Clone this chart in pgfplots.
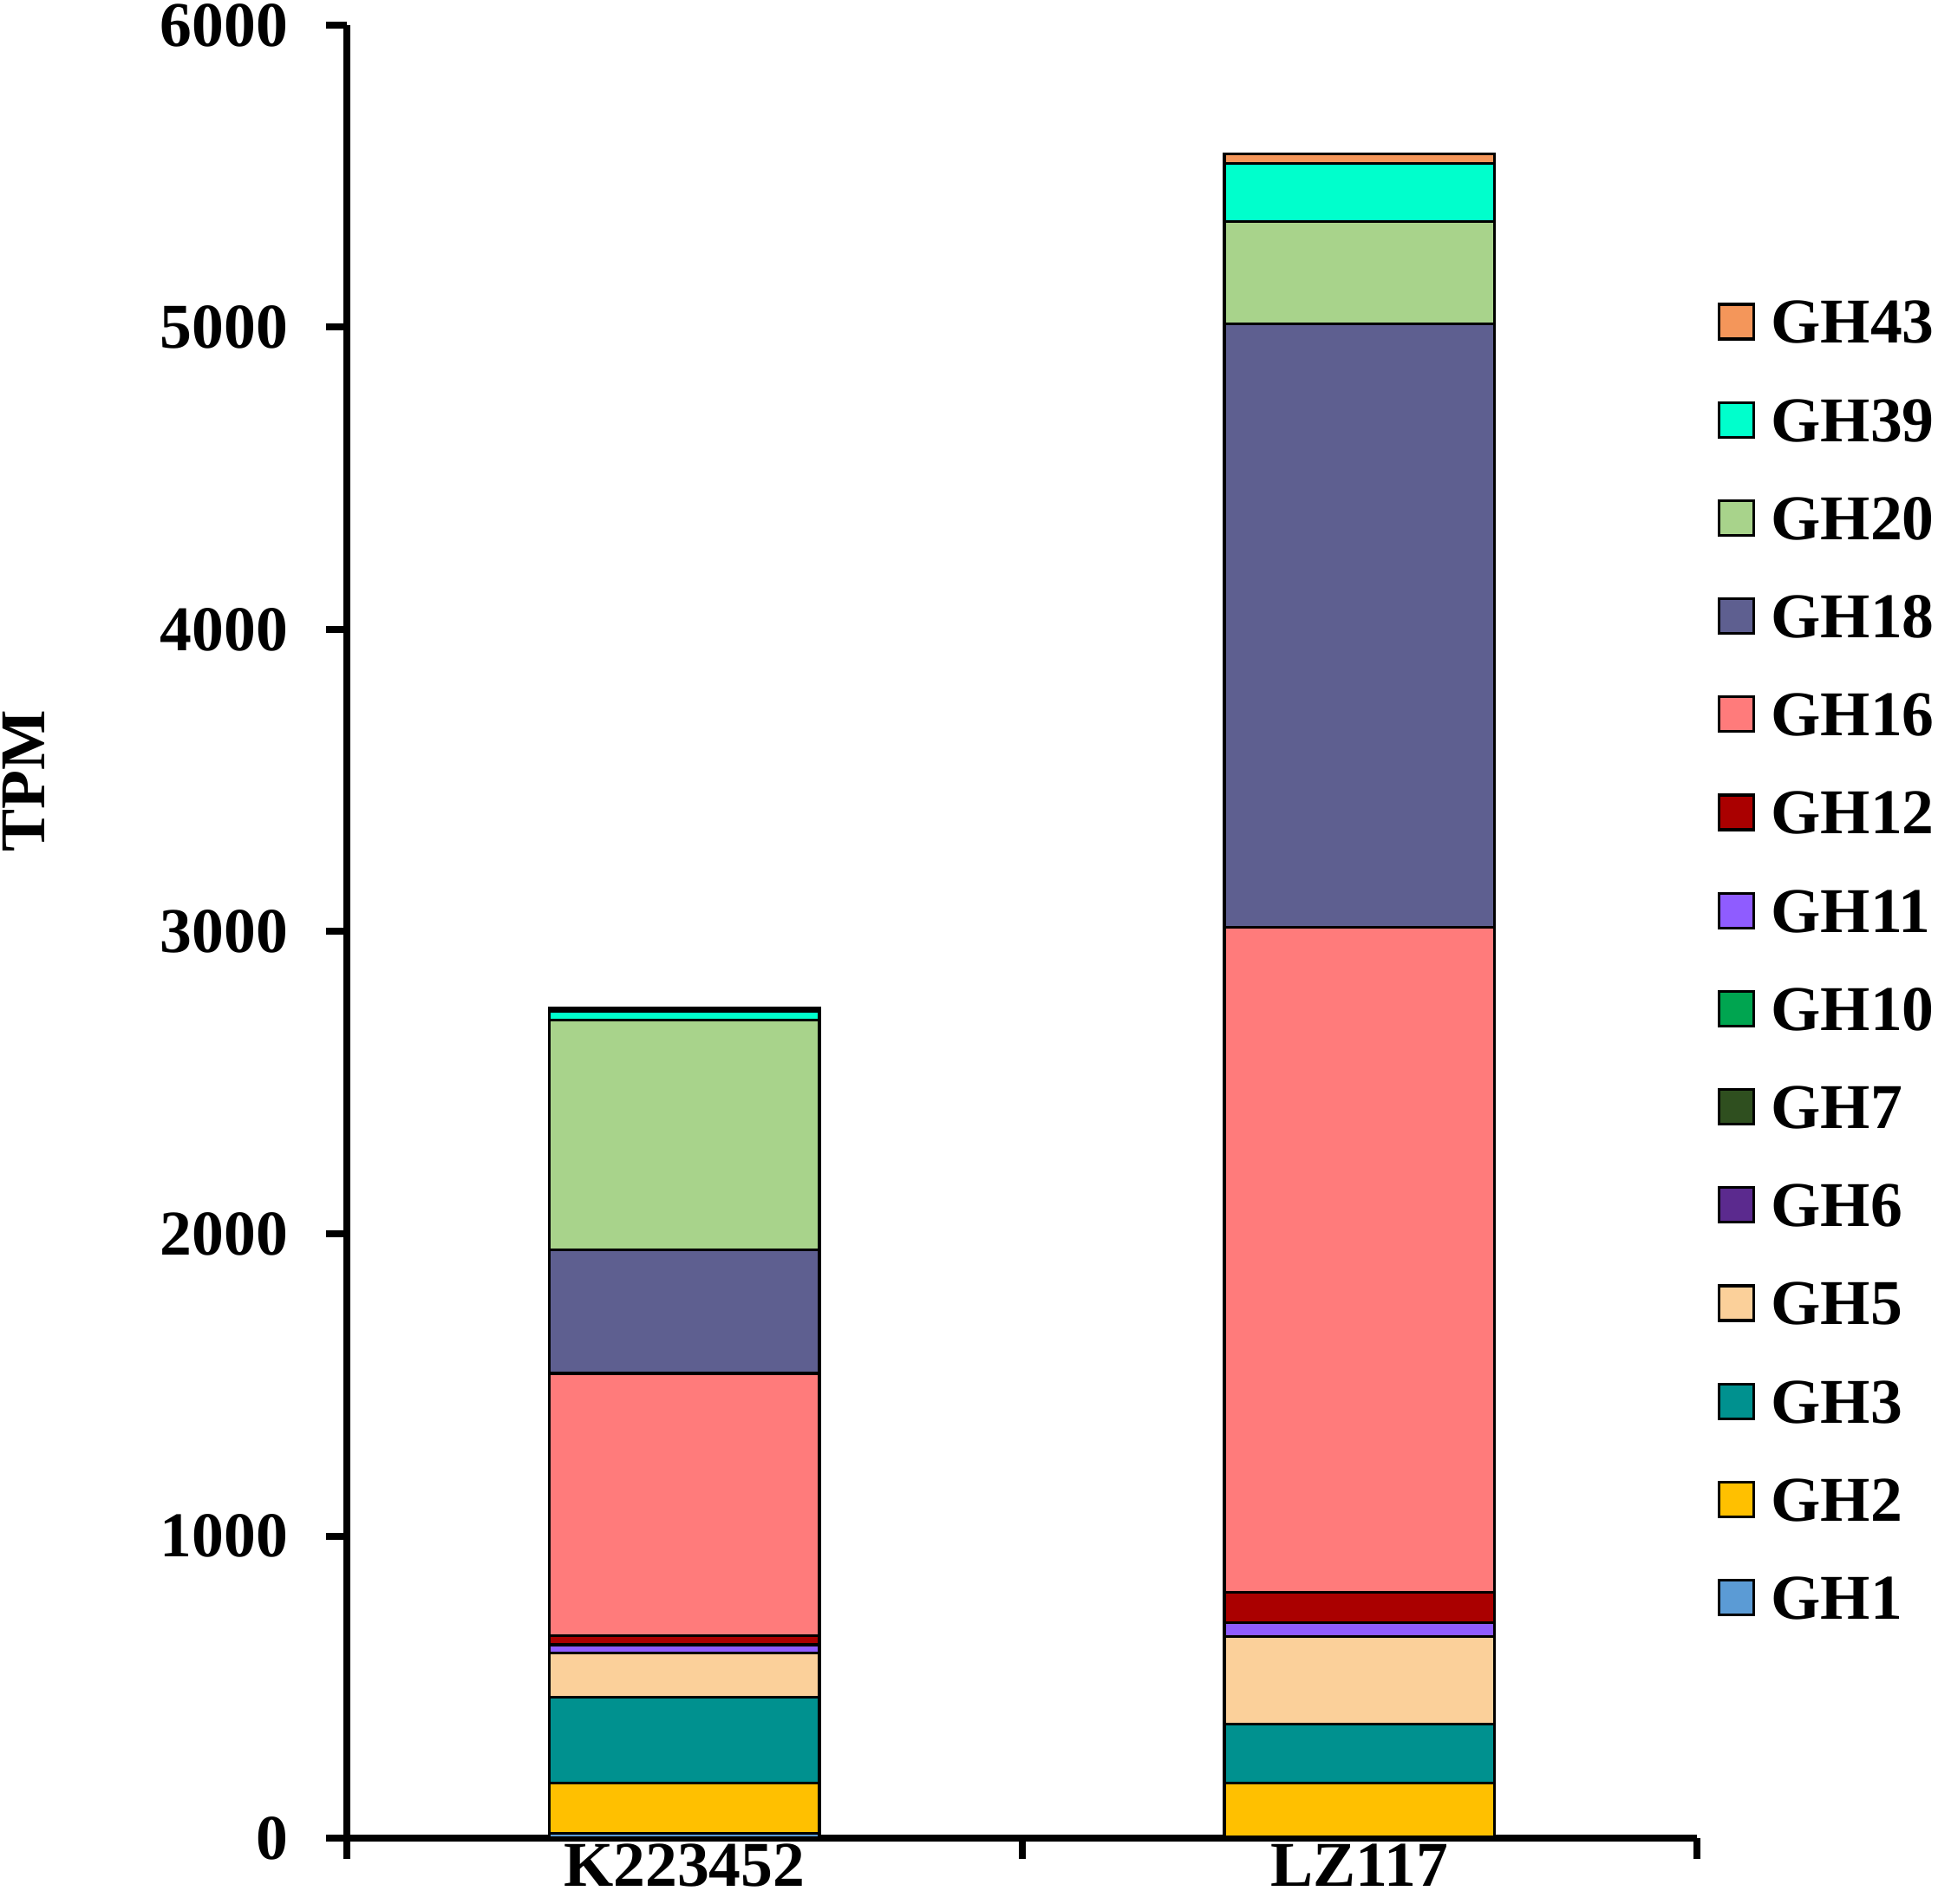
\documentclass[border=0pt]{standalone}
\usepackage{pgfplots}
\usepackage{pgfplotstable}
\pgfplotsset{compat=1.18}
\usepackage{fontspec}
\setmainfont{Liberation Serif}

\definecolor{cGHa}{HTML}{5B9BD5}
\definecolor{cGHb}{HTML}{FFC000}
\definecolor{cGHc}{HTML}{00918F}
\definecolor{cGHe}{HTML}{FBD09A}
\definecolor{cGHf}{HTML}{5B2A8E}
\definecolor{cGHg}{HTML}{2F4F1F}
\definecolor{cGHj}{HTML}{00A550}
\definecolor{cGHk}{HTML}{8F5CFF}
\definecolor{cGHl}{HTML}{AA0000}
\definecolor{cGHp}{HTML}{FF7B7B}
\definecolor{cGHr}{HTML}{5E5F90}
\definecolor{cGHt}{HTML}{A8D38B}
\definecolor{cGHw}{HTML}{00FFCC}
\definecolor{cGHz}{HTML}{F4965A}

\pgfplotstableread{
x GHa GHb GHc GHe GHf GHg GHj GHk GHl GHp GHr GHt GHw GHz
0 15 167 285 146 0 0 0 27 30 868 410 760 28 10
1 3 179 195 291 0 0 0 46 100 2201 1997 339 191 32
}\datatable

\begin{document}
\begin{tikzpicture}
\begin{axis}[
  scale only axis,
  width=389.25pt, height=522.75pt,
  ybar stacked, bar width=0.4,
  xmin=-0.5, xmax=1.5, ymin=0, ymax=6000,
  axis x line*=bottom, axis y line*=left,
  axis line style={line width=2pt, black},
  tick align=outside,
  major tick length=6pt,
  minor tick length=6pt,
  tick style={line width=2pt, black},
  ytick={0,1000,...,6000},
  xtick={0,1},
  xticklabels={K223452,LZ117},
  minor xtick={-0.5,0.5,1.5},
  major x tick style={draw=none},
  minor x tick style={draw=black, line width=2pt},
  /pgf/number format/assume math mode=true,
  /pgf/number format/1000 sep={},
  yticklabel style={font=\bfseries\fontsize{18.4}{20}\selectfont, inner sep=0pt, xshift=-10.75pt},
  xticklabel style={font=\bfseries\fontsize{18.4}{20}\selectfont, inner sep=0pt, yshift=4.5pt},
  ylabel={TPM},
  ylabel style={font=\bfseries\fontsize{18.4}{20}\selectfont, inner sep=0pt, at={(axis description cs:-0.239,0.583)}, anchor=center, rotate=0},
  every axis plot/.append style={draw=black, line width=0.8pt},
  reverse legend,
  legend cell align=left,
  legend style={draw=none, fill=none, inner sep=0pt, outer sep=0pt,
    at={(axis description cs:1.0154,0.8484)}, anchor=north west,
    font=\bfseries\fontsize{18.4}{20}\selectfont, row sep=15.8pt,
    nodes={inner sep=0pt, text height=12.5pt, text depth=0pt},
    /tikz/every odd column/.append style={column sep=4.6pt}},
  legend image code/.code={\draw[#1, draw=black, line width=0.8pt] (0pt,-5pt) rectangle (10pt,5pt);},
]
\addplot[fill=cGHa] table[x=x,y=GHa]{\datatable};
\addplot[fill=cGHb] table[x=x,y=GHb]{\datatable};
\addplot[fill=cGHc] table[x=x,y=GHc]{\datatable};
\addplot[fill=cGHe] table[x=x,y=GHe]{\datatable};
\addplot[fill=cGHf] table[x=x,y=GHf]{\datatable};
\addplot[fill=cGHg] table[x=x,y=GHg]{\datatable};
\addplot[fill=cGHj] table[x=x,y=GHj]{\datatable};
\addplot[fill=cGHk] table[x=x,y=GHk]{\datatable};
\addplot[fill=cGHl] table[x=x,y=GHl]{\datatable};
\addplot[fill=cGHp] table[x=x,y=GHp]{\datatable};
\addplot[fill=cGHr] table[x=x,y=GHr]{\datatable};
\addplot[fill=cGHt] table[x=x,y=GHt]{\datatable};
\addplot[fill=cGHw] table[x=x,y=GHw]{\datatable};
\addplot[fill=cGHz] table[x=x,y=GHz]{\datatable};
\legend{GH1,GH2,GH3,GH5,GH6,GH7,GH10,GH11,GH12,GH16,GH18,GH20,GH39,GH43}
\end{axis}
\pgfresetboundingbox
\path[use as bounding box] ([shift={(-100pt,-18.75pt)}]current axis.south west) rectangle ([shift={(458.75pt,530pt)}]current axis.south west);
\end{tikzpicture}
\end{document}
